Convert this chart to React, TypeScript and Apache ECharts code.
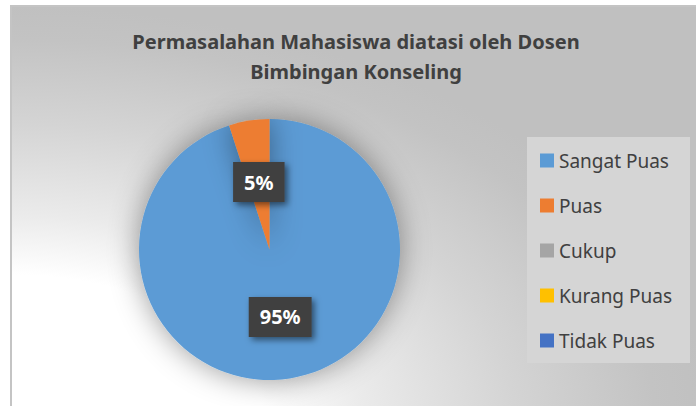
import React, { useEffect, useRef } from "react";
import * as echarts from "echarts";

const titleLines = ["Permasalahan Mahasiswa diatasi oleh Dosen", "Bimbingan Konseling"];
const categories = ["Sangat Puas", "Puas", "Cukup", "Kurang Puas", "Tidak Puas"];
const values = [95, 5, 0, 0, 0];
const colors = ["#5b9bd5", "#ed7d31", "#a5a5a5", "#ffc000", "#4472c4"];

export default function App() {
  const ref = useRef<HTMLDivElement>(null);
  useEffect(() => {
    if (!ref.current) return;
    const chart = echarts.init(ref.current, undefined, { renderer: "svg" });
    const data = categories.map((name, i) => ({
      name,
      value: values[i],
      itemStyle: { color: colors[i] },
      label: { show: values[i] > 0 },
    }));
    chart.setOption({
      animation: false,
      backgroundColor: "#ffffff",
      graphic: [
        {
          type: "rect",
          z: -10,
          shape: { x: 11, y: 6, width: 700, height: 420 },
          style: {
            fill: new echarts.graphic.RadialGradient(0, 1, 1, [
              { offset: 0, color: "#ffffff" },
              { offset: 0.36, color: "#ffffff" },
              { offset: 0.5, color: "#ebebeb" },
              { offset: 0.72, color: "#d4d4d4" },
              { offset: 0.92, color: "#c3c3c3" },
              { offset: 1, color: "#c0c0c0" },
            ]),
            stroke: "#c4c4c4",
            lineWidth: 2,
          },
        },
        {
          type: "rect",
          z: -5,
          shape: { x: 527, y: 137, width: 163, height: 226 },
          style: { fill: "#d5d5d5" },
        },
      ],
      title: {
        text: titleLines.join("\n"),
        left: 351,
        top: 21,
        textAlign: "center",
        textStyle: {
          fontFamily: "Noto Sans",
          fontSize: 20,
          fontWeight: "bold",
          color: "#404040",
          lineHeight: 30,
        },
      },
      legend: {
        orient: "vertical",
        left: 535,
        top: 146,
        itemWidth: 14,
        itemHeight: 14,
        itemGap: 26,
        icon: "rect",
        data: categories,
        textStyle: {
          fontFamily: "Noto Sans",
          fontSize: 19,
          color: "#404040",
        },
      },
      series: [
        {
          type: "pie",
          center: [269.5, 249.5],
          radius: 130.5,
          startAngle: 90,
          clockwise: true,
          avoidLabelOverlap: false,
          data,
          itemStyle: {
            borderWidth: 0,
            shadowBlur: 30,
            shadowColor: "rgba(0,0,0,0.4)",
          },
          label: {
            position: "inside",
            formatter: "{d}%",
            fontFamily: "Noto Sans",
            fontSize: 20,
            fontWeight: "bold",
            color: "#ffffff",
            backgroundColor: "#404040",
            padding: [10, 11],
            shadowBlur: 6,
            shadowColor: "rgba(0,0,0,0.5)",
            shadowOffsetX: 3,
            shadowOffsetY: 3,
          },
          labelLine: { show: false },
          emphasis: { disabled: true },
        },
      ],
    });
    return () => chart.dispose();
  }, []);
  return (
    <div
      ref={ref}
      style={{ position: "absolute", left: 0, top: 0, width: 696, height: 406 }}
    />
  );
}
